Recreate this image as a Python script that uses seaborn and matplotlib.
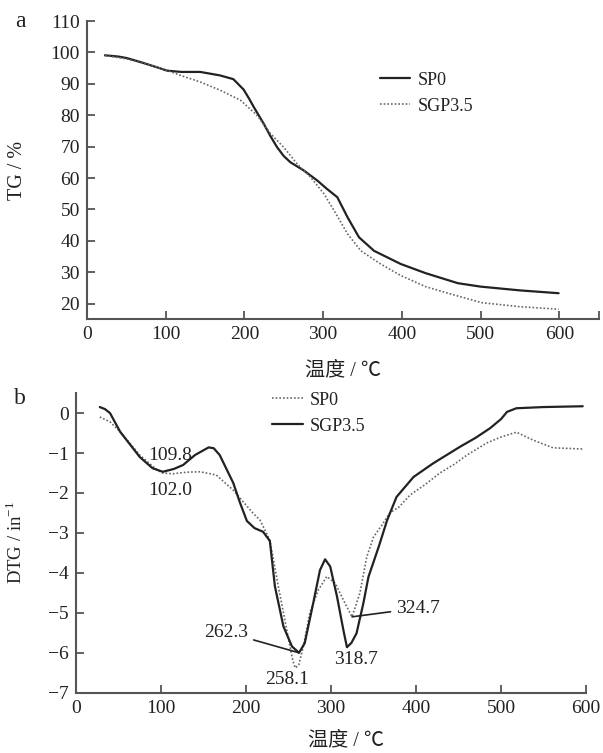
import numpy as np
import pandas as pd
import matplotlib
matplotlib.use('Agg')
import matplotlib.pyplot as plt
import seaborn as sns

# ---- data ----
# (a) TG curves
tg_sp0_x = [23, 40, 51, 70, 90, 102, 120, 144, 169, 186, 199, 206, 212, 224.6, 233, 241.6,
            250, 258.6, 275.5, 292.6, 305, 318, 331, 345.6, 364.7, 398.7, 430, 471, 500, 550, 599]
tg_sp0_y = [99.1, 98.7, 98.2, 96.8, 95.2, 94.2, 93.8, 93.8, 92.7, 91.5, 88.2, 85.3, 82.6, 77.3, 73.4, 69.8,
            67.0, 65.0, 62.4, 59.2, 56.5, 53.9, 47.5, 41.1, 36.8, 32.6, 29.7, 26.5, 25.4, 24.2, 23.3]
tg_sgp_x = [23, 50, 80, 100, 120, 144, 169, 195, 216, 233, 250, 267, 284, 301, 314, 331,
            348, 373, 399, 430, 460, 501, 550, 599]
tg_sgp_y = [99.0, 98.0, 96.0, 94.5, 92.6, 90.6, 88.0, 84.8, 80.0, 74.2, 69.8, 64.5, 60.3, 55.0, 49.6, 42.2,
            36.8, 32.6, 28.9, 25.4, 23.2, 20.3, 19.0, 18.2]

# (b) DTG curves
dtg_sp0_x = [28, 40, 52, 75, 95, 102, 114, 130, 146, 165, 185, 208, 216.5, 228, 238, 248, 255, 258, 262,
             267.5, 275, 285, 295, 305, 314.5, 324.7, 334, 342, 350, 360, 369, 380, 393, 410, 428, 445,
             460, 483, 500, 518, 538, 561, 596]
dtg_sp0_y = [-0.1, -0.22, -0.47, -1.05, -1.42, -1.5, -1.52, -1.48, -1.47, -1.55, -1.93, -2.5, -2.68, -3.18,
             -4.34, -5.43, -6.2, -6.38, -6.3, -5.84, -5.0, -4.43, -4.09, -4.26, -4.68, -5.1, -4.5, -3.6,
             -3.1, -2.8, -2.5, -2.35, -2.05, -1.8, -1.5, -1.28, -1.05, -0.75, -0.6, -0.48, -0.68, -0.87, -0.9]
dtg_sgp_x = [28, 34, 40, 52, 75, 90, 102, 115, 126, 140, 156, 162, 169, 185, 193, 201, 210, 220, 228, 234,
             244, 254, 262.3, 269, 279, 287, 293, 299, 307, 314.5, 318.7, 324, 330, 338, 344, 356, 366,
             377, 397, 420, 452, 470, 487, 500, 507, 518, 550, 596]
dtg_sgp_y = [0.15, 0.1, 0.0, -0.47, -1.1, -1.38, -1.47, -1.4, -1.3, -1.05, -0.86, -0.88, -1.05, -1.75,
             -2.25, -2.7, -2.88, -2.97, -3.2, -4.34, -5.34, -5.84, -6.0, -5.76, -4.76, -3.93, -3.66, -3.84,
             -4.59, -5.43, -5.86, -5.75, -5.51, -4.76, -4.1, -3.35, -2.68, -2.1, -1.6, -1.26, -0.84, -0.62,
             -0.38, -0.15, 0.03, 0.12, 0.15, 0.17]

tg_ticks = [20, 30, 40, 50, 60, 70, 80, 90, 100, 110]
dtg_ticks = [0, -1, -2, -3, -4, -5, -6, -7]
x_ticks = [0, 100, 200, 300, 400, 500, 600]

sns.set_theme(style='ticks')
plt.rcParams['font.family'] = ['Liberation Serif', 'Noto Sans CJK SC', 'DejaVu Sans']
plt.rcParams['mathtext.fontset'] = 'custom'
plt.rcParams['mathtext.rm'] = 'Liberation Serif'
plt.rcParams['axes.unicode_minus'] = True

ink = '#222222'
spine_c = '#555555'
dot_c = '#666666'

fig = plt.figure(figsize=(6.03, 7.53), dpi=100)
ax1 = fig.add_axes([0.144, 0.576, 0.849, 0.396])
ax2 = fig.add_axes([0.126, 0.080, 0.846, 0.398])

# top panel
sns.lineplot(x=tg_sp0_x, y=tg_sp0_y, ax=ax1, sort=False, color=ink, lw=1.6, label='SP0')
sns.lineplot(x=tg_sgp_x, y=tg_sgp_y, ax=ax1, sort=False, color=dot_c, lw=1.2,
             linestyle=(0, (1, 1.2)), label='SGP3.5')
ax1.set_xlim(0, 650)
ax1.set_ylim(15, 110)
ax1.set_yticks(tg_ticks)
ax1.set_xticks(x_ticks)
ax1.set_xticks([650], minor=True)
ax1.set_ylabel('TG / %', fontsize=14.5, color=ink)
ax1.set_xlabel('温度 / ℃', fontsize=14.5, color=ink)
ax1.yaxis.set_label_coords(-0.117, 0.5)
ax1.xaxis.set_label_coords(0.5, -0.142)
ax1.legend(loc='upper left', bbox_to_anchor=(0.572, 0.83), frameon=False, fontsize=13,
           handlelength=1.7, handletextpad=0.4, borderpad=0, borderaxespad=0, labelspacing=0.5,
           labelcolor=ink)

# bottom panel
sns.lineplot(x=dtg_sp0_x, y=dtg_sp0_y, ax=ax2, sort=False, color=dot_c, lw=1.2,
             linestyle=(0, (1, 1.2)), label='SP0')
sns.lineplot(x=dtg_sgp_x, y=dtg_sgp_y, ax=ax2, sort=False, color=ink, lw=1.6, label='SGP3.5')
ax2.set_xlim(0, 600)
ax2.set_ylim(-7, 0.5)
ax2.set_yticks(dtg_ticks)
ax2.set_xticks(x_ticks)
ax2.set_ylabel('DTG / in$^{-1}$', fontsize=13.5, color=ink)
ax2.set_xlabel('温度 / ℃', fontsize=14.5, color=ink)
ax2.yaxis.set_label_coords(-0.098, 0.5)
ax2.xaxis.set_label_coords(0.53, -0.13)
ax2.legend(loc='upper left', bbox_to_anchor=(0.384, 1.005), frameon=False, fontsize=13,
           handlelength=1.7, handletextpad=0.4, borderpad=0, borderaxespad=0, labelspacing=0.5,
           labelcolor=ink)

for ax in (ax1, ax2):
    sns.despine(ax=ax)
    for s in ('left', 'bottom'):
        ax.spines[s].set_color(spine_c)
        ax.spines[s].set_linewidth(1.5)
    ax.tick_params(which='both', direction='in', length=6, width=1.3, color=spine_c,
                   labelsize=14, labelcolor=ink, pad=5)

# peak labels
ax2.text(111, -1.05, '109.8', fontsize=14, color=ink, ha='center', va='center')
ax2.text(111, -1.93, '102.0', fontsize=14, color=ink, ha='center', va='center')
ax2.text(248, -6.68, '258.1', fontsize=14, color=ink, ha='center', va='center')
ax2.text(329, -6.18, '318.7', fontsize=14, color=ink, ha='center', va='center')
ax2.annotate('262.3', xy=(262.3, -6.0), xytext=(202, -5.48), fontsize=14, color=ink,
             ha='right', va='center',
             arrowprops=dict(arrowstyle='-', color=ink, lw=1.2, shrinkA=2, shrinkB=0))
ax2.annotate('324.7', xy=(324.7, -5.1), xytext=(377, -4.88), fontsize=14, color=ink,
             ha='left', va='center',
             arrowprops=dict(arrowstyle='-', color=ink, lw=1.2, shrinkA=2, shrinkB=0))

fig.text(0.033, 0.971, 'a', fontsize=17, color=ink, ha='center', va='center')
fig.text(0.033, 0.471, 'b', fontsize=17, color=ink, ha='center', va='center')

fig.savefig('out.png', dpi=100)
